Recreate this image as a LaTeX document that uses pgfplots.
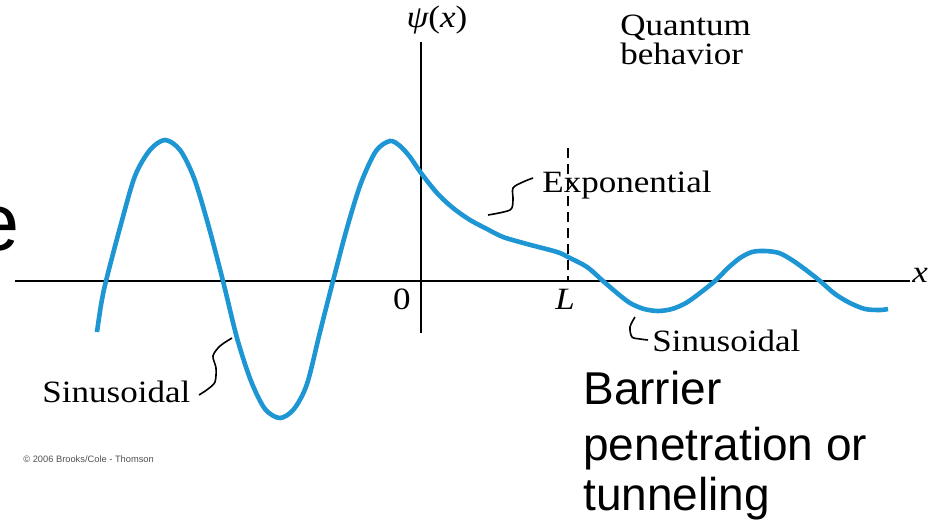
\documentclass[border=0pt]{standalone}
\usepackage{pgfplots}
\pgfplotsset{compat=1.18}
\usepackage{fontspec}
\setmainfont{Liberation Serif}
\newfontfamily\lserif[FakeStretch=1.13]{Liberation Serif}
\newfontfamily\lsans{Liberation Sans}
\definecolor{wave}{RGB}{30,150,212}
\definecolor{copy}{RGB}{80,80,80}

\begin{document}
\begin{tikzpicture}
\begin{axis}[
  at={(0,0)}, anchor=south west,
  width=467pt, height=263.5pt, scale only axis,
  xmin=-421, xmax=513, ymin=-246, ymax=281,
  hide axis, clip=false,
]
% axes
\draw[line width=1pt] (-406,0) -- (489,0);
\draw[line width=1pt] (0,239) -- (0,-52);
% barrier edge
\draw[line width=1pt, dash pattern=on 5pt off 3pt] (147,133) -- (147,0);
% wave function
\addplot[wave, line width=2.3pt, smooth, no markers] coordinates {
(-324,-51) (-320,-24) (-315,0) (-300,57) (-286,105) (-271,131) (-256,141)
(-241,131) (-227,103) (-213,57) (-198,0) (-184,-57) (-170,-100) (-156,-128)
(-141,-137) (-127,-128) (-114,-103) (-101,-51) (-88,0) (-74,53) (-60,98)
(-45,130) (-31,140) (-21,135) (-11,124) (0,108) (16,88) (32,73) (49,61)
(66,52) (82,44) (106,37) (129,31) (139,28) (147,24) (166,14) (182,0)
(196,-12) (209,-22) (223,-28) (237,-30) (251,-28) (265,-22) (279,-12)
(294,0) (307,13) (319,23) (331,29) (344,30) (358,28) (371,21) (385,11)
(399,0) (414,-13) (429,-22) (444,-28) (459,-29) (467,-28)
};
% leader lines
\draw[line width=0.8pt, smooth] plot coordinates {(67,66) (89,71) (92,81) (92,93) (102,99) (112,103)};
\draw[line width=0.8pt, smooth] plot coordinates {(214,-36) (209,-46) (211,-56) (219,-58) (227,-59)};
\draw[line width=0.8pt, smooth] plot coordinates {(-189,-57) (-201,-65) (-208,-75) (-205,-87) (-206,-101) (-213,-108) (-222,-114)};
% labels
\tikzset{lab/.style={inner sep=0pt, font=\lserif\fontsize{15.5pt}{18pt}\selectfont}}
\node[lab, anchor=base] at (16,253) {\itshape ψ\upshape(\itshape x\upshape)};
\node[lab, anchor=base west] at (199,245) {Quantum};
\node[lab, anchor=base west] at (199,216) {behavior};
\node[lab, anchor=base west] at (121,88) {Exponential};
\node[lab, anchor=base west] at (231,-71) {Sinusoidal};
\node[lab, anchor=base west] at (-379,-122) {Sinusoidal};
\node[lab, anchor=base] at (-19,-29) {0};
\node[lab, anchor=base] at (144,-29) {\itshape L};
\node[lab, anchor=base west] at (491,-2) {\itshape x};
\tikzset{big/.style={inner sep=0pt, anchor=base west, font=\lsans\fontsize{23pt}{26pt}\selectfont}}
\node[big] at (162,-124) {Barrier};
\node[big] at (162,-179) {penetration or};
\node[big] at (162,-229) {tunneling};
\node[inner sep=0pt, anchor=base west, text=copy, font=\lsans\fontsize{4.65pt}{5pt}\selectfont] at (-398,-181) {© 2006 Brooks/Cole - Thomson};
\end{axis}
% partially hidden slide title at the left edge
\begin{scope}
\clip (0,123.5pt) rectangle (10pt,188.5pt);
\node[inner sep=0pt, anchor=base west, font=\lsans\fontsize{40.5pt}{44pt}\selectfont] at (-13pt,138.5pt) {ec};
\end{scope}
\pgfresetboundingbox
\useasboundingbox (0,0) rectangle (467pt,263.5pt);
\end{tikzpicture}
\end{document}
